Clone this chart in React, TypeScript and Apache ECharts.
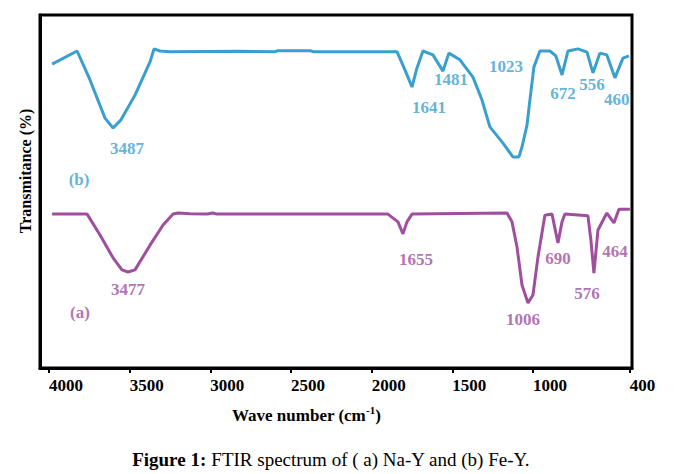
import React, { useEffect, useRef } from "react";
import * as echarts from "echarts";

// Curve (b) Fe-Y: wavenumber (cm-1) and transmittance (arbitrary units)
const WAVE_B = [3981, 3826, 3746, 3653, 3603, 3554, 3467, 3374, 3349, 3312, 3250, 2835, 2600, 2581, 2382, 2360, 1843, 1793, 1750, 1719, 1682, 1620, 1558, 1521, 1453, 1372, 1316, 1267, 1186, 1124, 1087, 1068, 1037, 1019, 994, 957, 895, 858, 820, 783, 721, 665, 628, 585, 542, 492, 442, 405];
const TRANS_B = [86.1, 89.8, 81.6, 70.8, 68.0, 70.3, 77.3, 86.7, 90.4, 89.8, 89.6, 89.7, 89.6, 89.9, 89.9, 89.6, 89.6, 84.4, 79.6, 85.0, 89.8, 88.7, 84.1, 89.2, 87.3, 82.4, 75.9, 68.3, 63.7, 59.8, 59.8, 62.6, 68.8, 75.9, 85.3, 89.8, 89.8, 88.4, 83.0, 89.8, 90.4, 89.5, 83.6, 89.2, 88.7, 82.2, 87.8, 88.4];

// Curve (a) Na-Y
const WAVE_A = [3981, 3764, 3684, 3603, 3548, 3510, 3467, 3374, 3293, 3231, 3200, 3126, 3020, 2984, 2960, 1899, 1837, 1806, 1781, 1750, 1161, 1130, 1099, 1068, 1031, 1000, 969, 926, 882, 845, 820, 802, 659, 641, 622, 597, 542, 498, 467, 399];
const TRANS_A = [43.6, 43.6, 37.7, 31.2, 27.8, 27.2, 27.8, 34.8, 40.5, 43.6, 43.9, 43.7, 43.6, 43.9, 43.6, 43.6, 41.4, 38.0, 41.4, 43.6, 43.9, 41.4, 34.3, 23.5, 18.4, 20.7, 31.4, 43.3, 43.6, 35.4, 41.4, 43.6, 43.1, 36.3, 26.9, 39.1, 43.9, 41.1, 45.0, 45.0];

// Peak annotations (text, anchor wavenumber, anchor transmittance)
const LABELS_B = ["(b)", "3487", "1641", "1481", "1023", "672", "556", "460"];
const LABEL_WAVE_B = [3814, 3517, 1645, 1508, 1167, 814, 634, 480];
const LABEL_Y_B = [53.3, 62.3, 73.9, 81.6, 85.3, 77.9, 80.2, 76.2];

const LABELS_A = ["(a)", "3477", "1655", "1006", "690", "576", "464"];
const LABEL_WAVE_A = [3808, 3510, 1725, 1062, 845, 665, 492];
const LABEL_Y_A = [15.6, 22.1, 30.6, 13.6, 30.9, 21.0, 33.1];

const X_TICKS = [4000, 3500, 3000, 2500, 2000, 1500, 1000, 400];

const COLOR_B = "#3A9FCF";
const COLOR_A = "#A04E9E";
const FONT = "'Liberation Serif', 'Times New Roman', serif";

export default function App() {
  const ref = useRef<HTMLDivElement>(null);

  useEffect(() => {
    if (!ref.current) return;
    const chart = echarts.init(ref.current, null, { renderer: "svg" });

    const lineB = WAVE_B.map((w, i) => [w, TRANS_B[i]]);
    const lineA = WAVE_A.map((w, i) => [w, TRANS_A[i]]);
    const labB = LABELS_B.map((t, i) => ({ name: t, value: [LABEL_WAVE_B[i], LABEL_Y_B[i]] }));
    const labA = LABELS_A.map((t, i) => ({ name: t, value: [LABEL_WAVE_A[i], LABEL_Y_A[i]] }));

    const labelSeries = (data: any[], color: string) => ({
      type: "scatter",
      data,
      symbolSize: 1,
      itemStyle: { color: "transparent" },
      silent: true,
      label: {
        show: true,
        position: "inside",
        formatter: "{b}",
        color,
        fontFamily: FONT,
        fontWeight: "bold",
        fontSize: 17,
      },
    });

    chart.setOption({
      animation: false,
      backgroundColor: "#ffffff",
      grid: {
        left: 40,
        top: 15,
        width: 592,
        height: 353,
        show: true,
        borderColor: "#000",
        borderWidth: 3,
        backgroundColor: "transparent",
      },
      xAxis: {
        type: "value",
        inverse: true,
        min: 386,
        max: 4056,
        axisLine: { show: true, lineStyle: { color: "#000", width: 3 } },
        axisTick: {
          show: true,
          customValues: X_TICKS,
          length: 5,
          lineStyle: { color: "#000", width: 2 },
        },
        axisLabel: {
          show: true,
          customValues: X_TICKS,
          formatter: (v: number) => String(Math.round(v)),
          align: "left",
          margin: 9,
          color: "#000",
          fontFamily: FONT,
          fontWeight: "bold",
          fontSize: 17,
        },
        splitLine: { show: false },
      },
      yAxis: {
        type: "value",
        min: 0,
        max: 100,
        axisLine: { show: true, lineStyle: { color: "#000", width: 3 } },
        axisTick: { show: false },
        axisLabel: { show: false },
        splitLine: { show: false },
      },
      graphic: [
        {
          type: "text",
          x: 25,
          y: 171,
          rotation: Math.PI / 2,
          style: {
            text: "Transmitance (%)",
            fill: "#000",
            font: `bold 16px ${FONT}`,
            align: "center",
            verticalAlign: "middle",
          },
        },
        {
          type: "text",
          x: 232,
          y: 415,
          style: {
            text: "{t|Wave number (cm}{s|-1}{t|)}",
            align: "left",
            verticalAlign: "middle",
            rich: {
              t: { fontFamily: FONT, fontWeight: "bold", fontSize: 17, color: "#000" },
              s: { fontFamily: FONT, fontWeight: "bold", fontSize: 11, color: "#000", padding: [0, 0, 10, 0] },
            },
          },
        },
        {
          type: "text",
          x: 331,
          y: 459,
          style: {
            text: "{b|Figure 1:}{n| FTIR spectrum of ( a) Na-Y and (b) Fe-Y.}",
            align: "center",
            verticalAlign: "middle",
            rich: {
              b: { fontFamily: FONT, fontWeight: "bold", fontSize: 19, color: "#000" },
              n: { fontFamily: FONT, fontSize: 19, color: "#000" },
            },
          },
        },
      ],
      series: [
        {
          type: "line",
          data: lineB,
          symbol: "none",
          smooth: false,
          lineStyle: { color: COLOR_B, width: 3 },
          silent: true,
        },
        {
          type: "line",
          data: lineA,
          symbol: "none",
          smooth: false,
          lineStyle: { color: COLOR_A, width: 3 },
          silent: true,
        },
        labelSeries(labB, COLOR_B),
        labelSeries(labA, COLOR_A),
      ],
    });

    return () => chart.dispose();
  }, []);

  return (
    <div
      ref={ref}
      style={{ position: "fixed", left: 0, top: 0, width: 675, height: 474, background: "#fff" }}
    />
  );
}
